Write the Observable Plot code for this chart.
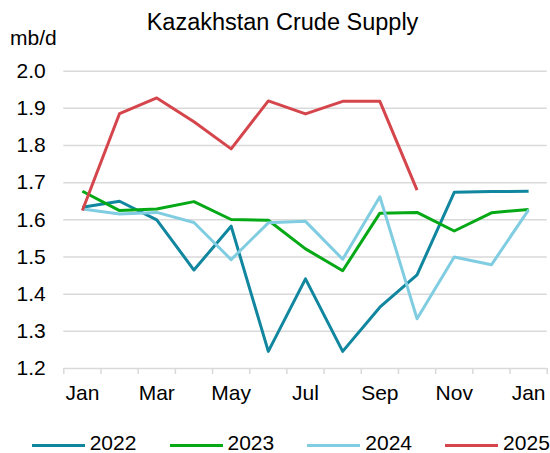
<!DOCTYPE html>
<html>
<head>
<meta charset="utf-8">
<script src="https://cdn.jsdelivr.net/npm/d3@7"></script>
<script src="https://cdn.jsdelivr.net/npm/@observablehq/plot@0.6"></script>
<style>
  html, body { margin: 0; padding: 0; background: #fff; }
  body { width: 550px; height: 453px; overflow: hidden; font-family: "Liberation Sans", Arial, sans-serif; color: #000; }
  #header { position: relative; height: 56px; }
  #title { position: absolute; left: 0; width: 565px; text-align: center; top: 11px; font-size: 23.5px; line-height: 1; white-space: nowrap; }
  #ylabel { position: absolute; left: 10px; top: 27.2px; font-size: 21px; line-height: 1; }
  #chart svg { display: block; }
  #legend { position: relative; height: 27px; }
  .item { position: absolute; top: 0; height: 27px; }
  .sw { position: absolute; left: 0; top: 17.5px; width: 53px; height: 3.5px; }
  .lb { position: absolute; left: 58px; top: 7.6px; font-size: 21px; line-height: 0.9; }
</style>
</head>
<body>
<div id="header"><div id="title">Kazakhstan Crude Supply</div><div id="ylabel">mb/d</div></div>
<div id="chart"></div>
<div id="legend"></div>
<script>
const months = ["Jan","Feb","Mar","Apr","May","Jun","Jul","Aug","Sep","Oct","Nov","Dec","Jan"];
const years = ["2022","2023","2024","2025"];
const colors = ["#10869f","#05a815","#80cde2","#d5454c"];
const v2022 = [1.634,1.650,1.600,1.465,1.583,1.246,1.441,1.246,1.365,1.452,1.674,1.676,1.677];
const v2023 = [1.677,1.625,1.629,1.649,1.601,1.599,1.522,1.463,1.618,1.620,1.570,1.619,1.628];
const v2024 = [1.629,1.616,1.620,1.593,1.493,1.592,1.596,1.494,1.662,1.334,1.500,1.479,1.627];
const v2025 = [1.625,1.886,1.928,1.864,1.791,1.920,1.885,1.919,1.919,1.680];
const yTicks = [1.2,1.3,1.4,1.5,1.6,1.7,1.8,1.9,2.0];
const labelIdx = [0,2,4,6,8,10,12];

const series = [v2022, v2023, v2024, v2025];
const rows = [];
series.forEach((vals, k) => vals.forEach((v, i) => rows.push({year: years[k], i, v})));
const boundaries = d3.range(months.length + 1).map(i => i - 0.5);

const chart = Plot.plot({
  width: 550, height: 370,
  marginTop: 14.7, marginBottom: 58, marginLeft: 63.3, marginRight: 3.3,
  style: {fontFamily: '"Liberation Sans", Arial, sans-serif', fontSize: "21px", color: "#000", background: "#fff"},
  x: {domain: [-0.5, months.length - 0.5]},
  y: {domain: [1.2, 2.0]},
  color: {domain: years, range: colors},
  marks: [
    Plot.gridY(yTicks, {stroke: "#d9d9d9", strokeOpacity: 1, strokeWidth: 1.5}),
    Plot.axisY(yTicks, {tickSize: 0, tickPadding: 18, tickFormat: d => d.toFixed(1), fontSize: 21, label: null}),
    Plot.axisX(boundaries, {tickSize: 6, stroke: "#d9d9d9", strokeWidth: 1.5, tickFormat: () => "", label: null}),
    Plot.axisX(labelIdx, {tickSize: 0, tickPadding: 17, tickFormat: i => months[i], fontSize: 21, label: null}),
    Plot.line(rows, {x: "i", y: "v", stroke: "year", z: "year", strokeWidth: 3, strokeLinejoin: "round", strokeLinecap: "butt"})
  ]
});
document.getElementById("chart").appendChild(chart);

const legend = document.getElementById("legend");
years.forEach((y, k) => {
  const it = document.createElement("div");
  it.className = "item";
  it.style.left = (31.7 + 137.8 * k) + "px";
  it.innerHTML = `<div class="sw" style="background:${colors[k]}"></div><div class="lb">${y}</div>`;
  legend.appendChild(it);
});
</script>
</body>
</html>
